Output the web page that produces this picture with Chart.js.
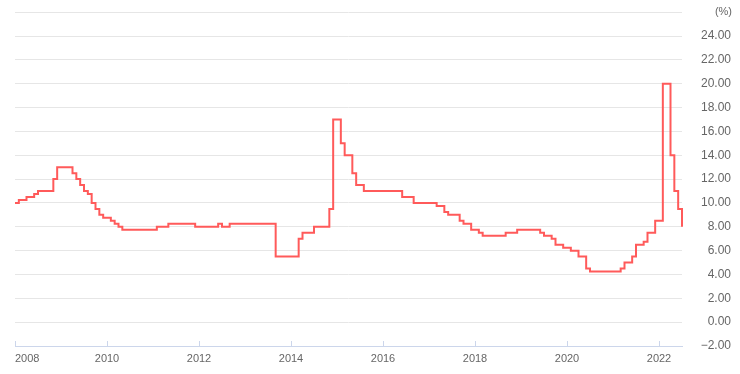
<!DOCTYPE html>
<html>
<head>
<meta charset="utf-8">
<script src="https://cdn.jsdelivr.net/npm/chart.js@4/dist/chart.umd.min.js"></script>
<style>
    html, body { margin: 0; padding: 0; background: #fff; }
    #wrap { width: 740px; height: 374px; }
</style>
</head>
<body>
<div id="wrap"><canvas id="chart"></canvas></div>
<script>
'use strict';

// month each rate took effect (monthly step data)
let rateMonths = [
    '2008-01', '2008-02', '2008-04', '2008-06', '2008-07', '2008-11', '2008-12',
    '2009-04', '2009-05', '2009-06', '2009-07', '2009-08', '2009-09', '2009-10', '2009-11', '2009-12',
    '2010-02', '2010-03', '2010-04', '2010-05',
    '2011-02', '2011-05', '2011-12',
    '2012-06', '2012-07', '2012-09',
    '2013-09',
    '2014-03', '2014-04', '2014-07', '2014-11', '2014-12',
    '2015-02', '2015-03', '2015-05', '2015-06', '2015-08',
    '2016-06', '2016-09',
    '2017-03', '2017-05', '2017-06', '2017-09', '2017-10', '2017-12',
    '2018-02', '2018-03', '2018-09', '2018-12',
    '2019-06', '2019-07', '2019-09', '2019-10', '2019-12',
    '2020-02', '2020-04', '2020-06', '2020-07',
    '2021-03', '2021-04', '2021-06', '2021-07', '2021-09', '2021-10', '2021-12',
    '2022-02', '2022-04', '2022-05', '2022-06', '2022-07'
];

let rateValues = [
    10, 10.25, 10.5, 10.75, 11, 12, 13,
    12.5, 12, 11.5, 11, 10.75, 10, 9.5, 9, 8.75,
    8.5, 8.25, 8, 7.75,
    8, 8.25, 8,
    8.25, 8, 8.25,
    5.5,
    7, 7.5, 8, 9.5, 17,
    15, 14, 12.5, 11.5, 11,
    10.5, 10,
    9.75, 9.25, 9, 8.5, 8.25, 7.75,
    7.5, 7.25, 7.5, 7.75,
    7.5, 7.25, 7, 6.5, 6.25,
    6, 5.5, 4.5, 4.25,
    4.5, 5, 5.5, 6.5, 6.75, 7.5, 8.5,
    20, 14, 11, 9.5, 8
];

let startYear = 2008;
let yearTicks = ['2008', '2010', '2012', '2014', '2016', '2018', '2020', '2022'];
let unitLabel = '(%)';

function monthIndex(s) {
    var parts = s.split('-');
    return (parseInt(parts[0], 10) - startYear) * 12 + parseInt(parts[1], 10) - 1;
}

function fmtValue(v) {
    if (v < 0) {
        return '\u2212' + Math.abs(v).toFixed(2);
    }
    return v.toFixed(2);
}

var points = rateMonths.map(function (m, i) {
    return { x: monthIndex(m), y: rateValues[i] };
});
var lastX = points[points.length - 1].x;

// upward tick marks on x axis + unit label at top of y axis
var extras = {
    id: 'extras',
    afterDraw: function (chart) {
        var ctx = chart.ctx;
        var xs = chart.scales.x, ys = chart.scales.y;
        ctx.save();
        ctx.strokeStyle = '#ccd6eb';
        ctx.lineWidth = 1;
        xs.ticks.forEach(function (t) {
            if (t.value % 24 !== 0) return;
            var px = Math.round(xs.getPixelForValue(t.value)) + 0.5;
            ctx.beginPath();
            ctx.moveTo(px, xs.top);
            ctx.lineTo(px, xs.top - 5);
            ctx.stroke();
        });
        ctx.fillStyle = '#666666';
        ctx.font = '11px "Liberation Sans", Arial, sans-serif';
        ctx.textAlign = 'right';
        ctx.textBaseline = 'middle';
        ctx.fillText(unitLabel, 732, ys.getPixelForValue(26));
        ctx.restore();
    }
};

new Chart(document.getElementById('chart').getContext('2d'), {
    type: 'line',
    data: {
        datasets: [{
            data: points,
            stepped: true,
            borderColor: '#ff5a5a',
            borderWidth: 2,
            pointRadius: 0,
            fill: false,
            clip: 4
        }]
    },
    options: {
        responsive: true,
        maintainAspectRatio: false,
        animation: false,
        layout: { padding: { top: 11, left: 15, right: 9, bottom: 0 } },
        plugins: {
            legend: { display: false },
            tooltip: { enabled: false }
        },
        scales: {
            x: {
                type: 'linear',
                position: 'bottom',
                min: 0,
                max: lastX,
                afterFit: function (s) { s.height = 28; },
                afterBuildTicks: function (s) {
                    var t = yearTicks.map(function (y, i) { return { value: i * 24 }; });
                    t.push({ value: lastX });
                    s.ticks = t;
                },
                grid: { drawOnChartArea: false, drawTicks: false },
                border: { color: '#ccd6eb', width: 1 },
                ticks: {
                    autoSkip: false,
                    maxRotation: 0,
                    align: 'inner',
                    padding: 6,
                    color: '#666666',
                    font: { family: '"Liberation Sans", Arial, sans-serif', size: 11 },
                    callback: function (v) {
                        return v % 24 === 0 ? yearTicks[v / 24] : '';
                    }
                }
            },
            y: {
                position: 'right',
                min: -2,
                max: 26,
                afterFit: function (s) { s.width = 49; },
                border: { display: false },
                grid: {
                    drawTicks: false,
                    color: function (c) {
                        return c.tick && c.tick.value === -2 ? 'rgba(0,0,0,0)' : '#e6e6e6';
                    }
                },
                ticks: {
                    stepSize: 2,
                    crossAlign: 'far',
                    padding: 5,
                    color: '#666666',
                    font: { family: '"Liberation Sans", Arial, sans-serif', size: 12 },
                    callback: function (v) {
                        return v === 26 ? '' : fmtValue(v);
                    }
                }
            }
        }
    },
    plugins: [extras]
});
</script>
</body>
</html>
